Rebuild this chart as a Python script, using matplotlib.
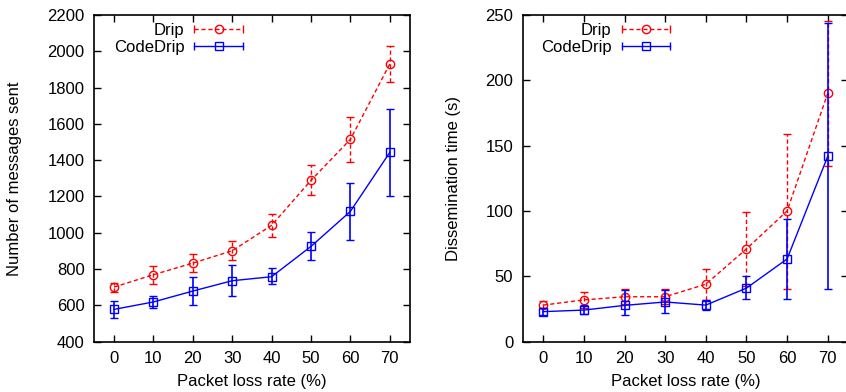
import matplotlib
matplotlib.use("Agg")
import matplotlib.pyplot as plt
from matplotlib.lines import Line2D
from matplotlib.legend_handler import HandlerLine2D, HandlerTuple

plt.rcParams['font.family'] = ['Liberation Sans', 'DejaVu Sans']

loss = [0, 10, 20, 30, 40, 50, 60, 70]

# Left: number of messages sent
msg_drip = [701, 769, 833, 901, 1041, 1289, 1515, 1930]
msg_drip_lo = [676, 718, 782, 850, 979, 1206, 1388, 1831]
msg_drip_hi = [725, 819, 881, 953, 1101, 1371, 1640, 2027]
msg_code = [578, 619, 679, 736, 758, 925, 1118, 1443]
msg_code_lo = [530, 584, 600, 650, 716, 848, 960, 1204]
msg_code_hi = [622, 653, 758, 824, 804, 1002, 1276, 1684]

# Right: dissemination time (s)
t_drip = [28, 32, 34.4, 34.4, 44, 71, 100, 190]
t_drip_lo = [25.5, 25.5, 29, 29, 32, 43, 40, 134.7]
t_drip_hi = [31, 38, 40, 40, 56, 99, 159, 245.7]
t_code = [23, 24.2, 27.8, 30.4, 28, 41, 63.3, 141.8]
t_code_lo = [20.4, 21, 20.4, 21.7, 24, 32.4, 33, 40]
t_code_hi = [25.5, 27.8, 39.5, 39.5, 32, 50, 93.6, 244]

series_names = ["Drip", "CodeDrip"]
xlabel = "Packet loss rate (%)"
ylabels = ["Number of messages sent", "Dissemination time (s)"]

W, H = 846, 392
fig = plt.figure(figsize=(W / 100, H / 100), dpi=100)

def px_axes(l, r, t, b):
    return fig.add_axes([l / W, (H - b) / H, (r - l) / W, (b - t) / H])

ax1 = px_axes(94.3, 409.5, 15, 341.7)
ax2 = px_axes(523, 848, 15, 341.7)

RED = (1.0, 0.0, 0.0)
BLUE = (0.0, 0.0, 1.0)

def draw(ax, d, dlo, dhi, c, clo, chi, ylim, yticks, ylab, ylab_x, leg_x):
    derr = [[v - lo for v, lo in zip(d, dlo)], [hi - v for v, hi in zip(d, dhi)]]
    cerr = [[v - lo for v, lo in zip(c, clo)], [hi - v for v, hi in zip(c, chi)]]
    e1 = ax.errorbar(loss, d, yerr=derr, color=RED, ls=(0, (3, 2)), lw=1.0,
                     marker='o', ms=6, mfc='none', mec=RED, mew=1.0,
                     capsize=3, capthick=1.0, elinewidth=1.0, zorder=2)
    for lc in e1[2]:
        lc.set_linestyle((0, (3, 2)))
    ax.errorbar(loss, c, yerr=cerr, color=BLUE, ls='-', lw=1.0,
                marker='s', ms=6, mfc='none', mec=BLUE, mew=1.0,
                capsize=3, capthick=1.0, elinewidth=1.2, zorder=3)
    ax.set_xlim(-5, 75)
    ax.set_ylim(*ylim)
    ax.set_xticks(loss)
    ax.set_yticks(yticks)
    ax.tick_params(direction='in', length=5, width=1.0, top=True, right=True,
                   labelsize=12, colors='black')
    ax.tick_params(axis='x', pad=7)
    ax.tick_params(axis='y', pad=7)
    for s in ax.spines.values():
        s.set_linewidth(1.2)
    ax.set_xlabel(xlabel, fontsize=12)
    ax.xaxis.set_label_coords(0.5, -0.1)
    ax.set_ylabel(ylab, fontsize=12)
    ax.yaxis.set_label_coords(ylab_x, 0.5)

    # gnuplot-style legend: text then sample (caps at both ends, marker in middle)
    d_line = Line2D([], [], color=RED, ls=(0, (3, 2)), lw=1.0, marker='|', ms=6, mew=1.0)
    d_mark = Line2D([], [], color=RED, ls='none', marker='o', ms=6, mfc='none', mew=1.0)
    c_line = Line2D([], [], color=BLUE, ls='-', lw=1.0, marker='|', ms=6, mew=1.0)
    c_mark = Line2D([], [], color=BLUE, ls='none', marker='s', ms=6, mfc='none', mew=1.0)
    hmap = {d_line: HandlerLine2D(numpoints=2, marker_pad=0),
            c_line: HandlerLine2D(numpoints=2, marker_pad=0),
            d_mark: HandlerLine2D(numpoints=1),
            c_mark: HandlerLine2D(numpoints=1),
            tuple: HandlerTuple(ndivide=1)}
    ax.legend([(d_line, d_mark), (c_line, c_mark)], series_names,
              handler_map=hmap, markerfirst=False, frameon=False,
              loc='upper left', bbox_to_anchor=(leg_x, 0.977),
              fontsize=12, handlelength=2.9, handletextpad=0.6,
              labelspacing=0.15, borderaxespad=0.0, borderpad=0.0)

draw(ax1, msg_drip, msg_drip_lo, msg_drip_hi, msg_code, msg_code_lo, msg_code_hi,
     (400, 2200), list(range(400, 2201, 200)), ylabels[0], -0.229, 0.062)
draw(ax2, t_drip, t_drip_lo, t_drip_hi, t_code, t_code_lo, t_code_hi,
     (0, 250), list(range(0, 251, 50)), ylabels[1], -0.19, 0.055)

fig.savefig("out.png", dpi=100)
